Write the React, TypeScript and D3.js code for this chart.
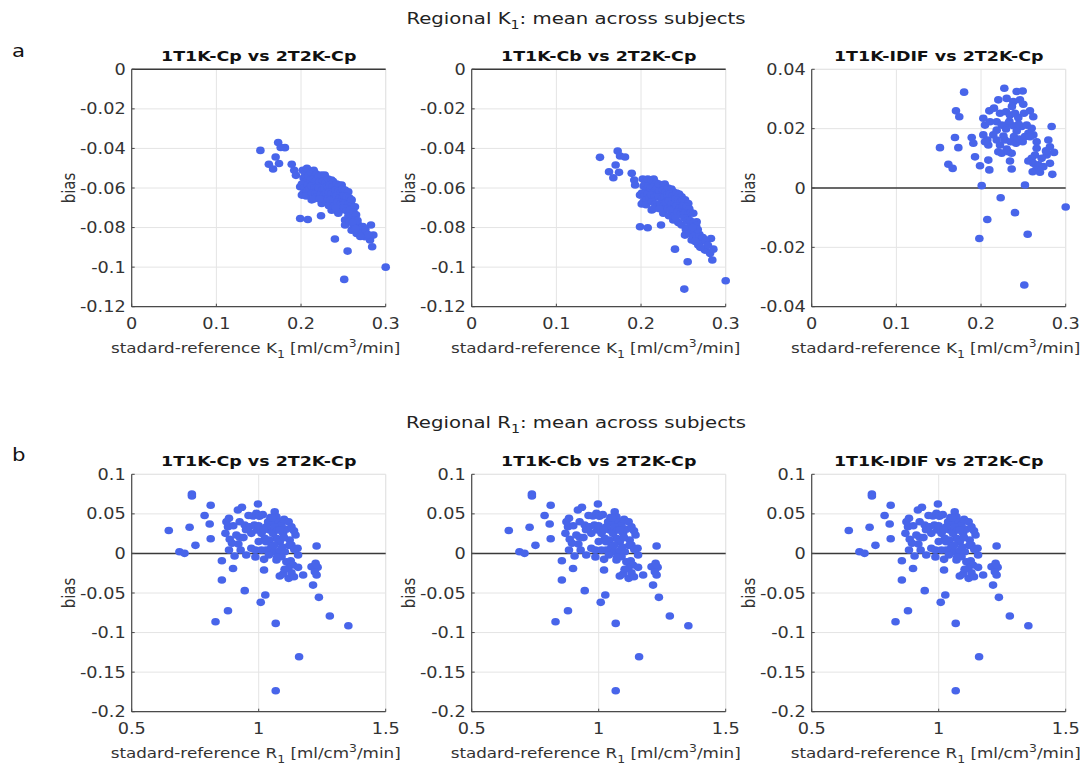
import React, { useEffect } from "react";
import * as d3 from "d3";

// ---------- data ----------
const panelTitles = ["1T1K-Cp vs 2T2K-Cp", "1T1K-Cb vs 2T2K-Cp", "1T1K-IDIF vs 2T2K-Cp"];
const k1Ticks = [0, 0.1, 0.2, 0.3];
const k1BiasTicks = [-0.12, -0.1, -0.08, -0.06, -0.04, -0.02, 0];
const k1IdifBiasTicks = [-0.04, -0.02, 0, 0.02, 0.04];
const r1Ticks = [0.5, 1, 1.5];
const r1BiasTicks = [-0.2, -0.15, -0.1, -0.05, 0, 0.05, 0.1];

const k1Cp: [number, number][] = [
  [0.152,-0.041],[0.173,-0.037],[0.176,-0.0395],[0.181,-0.0396],[0.170,-0.0443],[0.162,-0.048],[0.167,-0.0504],[0.174,-0.0476],
  [0.189,-0.048],[0.192,-0.051],[0.194,-0.0536],[0.199,-0.0594],[0.201,-0.0636],[0.199,-0.0754],[0.208,-0.0759],[0.2236,-0.074],
  [0.240,-0.0858],[0.255,-0.0919],[0.251,-0.1062],[0.300,-0.100],[0.2826,-0.0787],[0.2854,-0.0838],[0.2815,-0.0863],[0.284,-0.0897],
  [0.202,-0.051],[0.205,-0.0525],[0.207,-0.050],[0.203,-0.055],[0.206,-0.0565],[0.209,-0.054],[0.201,-0.058],[0.204,-0.060],
  [0.208,-0.0585],[0.203,-0.0625],[0.207,-0.0615],[0.210,-0.0605],[0.206,-0.064],
  [0.212,-0.052],[0.215,-0.051],[0.218,-0.053],[0.211,-0.056],[0.214,-0.0555],[0.217,-0.057],[0.219,-0.0555],[0.212,-0.059],
  [0.216,-0.060],[0.219,-0.0595],[0.213,-0.0625],[0.217,-0.063],[0.2126,-0.066],[0.219,-0.0645],[0.215,-0.0655],
  [0.221,-0.054],[0.224,-0.0535],[0.228,-0.0535],[0.222,-0.057],[0.226,-0.0565],[0.229,-0.0575],[0.221,-0.060],[0.225,-0.061],
  [0.228,-0.060],[0.223,-0.0635],[0.227,-0.064],[0.230,-0.0625],[0.2244,-0.0678],[0.228,-0.066],[0.222,-0.0655],
  [0.232,-0.0555],[0.236,-0.056],[0.238,-0.0568],[0.231,-0.059],[0.234,-0.0585],[0.237,-0.0595],[0.239,-0.061],[0.233,-0.062],
  [0.236,-0.063],[0.240,-0.0635],[0.232,-0.0655],[0.235,-0.066],[0.238,-0.0665],[0.2362,-0.0712],[0.233,-0.069],[0.239,-0.069],
  [0.242,-0.058],[0.245,-0.0585],[0.248,-0.0585],[0.241,-0.061],[0.244,-0.0615],[0.247,-0.062],[0.249,-0.0605],[0.242,-0.064],
  [0.246,-0.065],[0.249,-0.0645],[0.243,-0.067],[0.247,-0.068],[0.250,-0.067],[0.244,-0.0728],[0.248,-0.071],[0.241,-0.070],
  [0.252,-0.061],[0.2558,-0.0619],[0.251,-0.064],[0.254,-0.0645],[0.257,-0.065],[0.252,-0.0675],[0.256,-0.068],[0.259,-0.067],
  [0.251,-0.070],[0.254,-0.0715],[0.258,-0.071],[0.252,-0.0762],[0.256,-0.074],[0.259,-0.0745],[0.252,-0.0787],[0.2598,-0.0813],
  [0.257,-0.077],
  [0.2598,-0.066],[0.2637,-0.0695],[0.262,-0.072],[0.265,-0.0735],[0.2637,-0.0762],[0.2676,-0.0787],[0.262,-0.079],[0.2657,-0.083],
  [0.2716,-0.0821],[0.2755,-0.0846],[0.269,-0.081],[0.273,-0.0795],[0.276,-0.081],[0.279,-0.0835],[0.270,-0.0845],[0.2667,-0.0765],
  [0.261,-0.0775],[0.264,-0.0805],
];

const k1Cb: [number, number][] = [
  [0.1515,-0.0445],[0.1724,-0.0413],[0.1752,-0.0438],[0.1811,-0.0443],[0.170,-0.0484],[0.1622,-0.0518],[0.1673,-0.0548],[0.174,-0.0521],
  [0.189,-0.0526],[0.192,-0.056],[0.193,-0.0585],[0.1988,-0.0636],[0.2008,-0.0681],[0.1988,-0.0796],[0.2079,-0.0801],[0.2236,-0.0787],
  [0.2401,-0.0909],[0.2551,-0.0973],[0.2511,-0.1111],[0.300,-0.1069],[0.2826,-0.0855],[0.2854,-0.0909],[0.2815,-0.093],[0.2842,-0.0964],
  [0.202,-0.0555],[0.205,-0.057],[0.208,-0.0555],[0.203,-0.059],[0.206,-0.0605],[0.209,-0.059],[0.201,-0.0625],[0.204,-0.064],
  [0.208,-0.063],[0.203,-0.067],[0.207,-0.066],[0.210,-0.065],[0.206,-0.0685],
  [0.212,-0.056],[0.215,-0.0555],[0.218,-0.0575],[0.211,-0.060],[0.214,-0.0595],[0.217,-0.0615],[0.219,-0.060],[0.212,-0.0635],
  [0.216,-0.0645],[0.219,-0.064],[0.213,-0.067],[0.217,-0.068],[0.2126,-0.0711],[0.219,-0.0695],[0.215,-0.0705],
  [0.221,-0.058],[0.2263,-0.0585],[0.228,-0.058],[0.222,-0.0615],[0.226,-0.061],[0.229,-0.062],[0.221,-0.0645],[0.225,-0.0655],
  [0.228,-0.0645],[0.223,-0.068],[0.227,-0.069],[0.230,-0.067],[0.2263,-0.0728],[0.228,-0.0705],[0.222,-0.0705],
  [0.232,-0.060],[0.236,-0.0605],[0.2381,-0.0619],[0.231,-0.0635],[0.234,-0.063],[0.237,-0.064],[0.239,-0.0655],[0.233,-0.0665],
  [0.236,-0.068],[0.240,-0.068],[0.232,-0.0705],[0.235,-0.071],[0.238,-0.0715],[0.2381,-0.0762],[0.233,-0.074],[0.239,-0.074],
  [0.242,-0.0625],[0.245,-0.063],[0.248,-0.0644],[0.241,-0.0655],[0.244,-0.066],[0.247,-0.067],[0.249,-0.066],[0.242,-0.069],
  [0.246,-0.070],[0.249,-0.0695],[0.243,-0.072],[0.247,-0.073],[0.250,-0.072],[0.244,-0.0775],[0.248,-0.0787],[0.241,-0.075],
  [0.252,-0.066],[0.2558,-0.0678],[0.251,-0.069],[0.254,-0.0695],[0.257,-0.0705],[0.252,-0.0725],[0.256,-0.073],[0.259,-0.0725],
  [0.251,-0.075],[0.254,-0.0765],[0.258,-0.0765],[0.2519,-0.0838],[0.256,-0.080],[0.259,-0.0805],[0.253,-0.081],[0.2598,-0.0863],
  [0.257,-0.083],
  [0.2617,-0.0728],[0.2657,-0.0771],[0.262,-0.0775],[0.265,-0.079],[0.263,-0.082],[0.2676,-0.0888],[0.262,-0.0845],[0.266,-0.085],
  [0.271,-0.087],[0.2755,-0.0914],[0.269,-0.0835],[0.273,-0.085],[0.276,-0.0865],[0.279,-0.089],[0.270,-0.090],[0.267,-0.081],
  [0.261,-0.080],[0.264,-0.087],
];

const k1Idif: [number, number][] = [
  [0.180,0.0323],[0.2275,0.0336],[0.2421,0.0325],[0.2492,0.0327],[0.2204,0.0297],[0.2303,0.0302],[0.2381,0.0291],[0.246,0.0297],
  [0.2499,0.0282],[0.2098,0.026],[0.2153,0.0269],[0.2224,0.0252],[0.2295,0.0257],[0.2342,0.0246],[0.2401,0.0252],[0.244,0.0237],
  [0.2507,0.0252],[0.2578,0.026],[0.2617,0.024],[0.2027,0.0235],[0.2047,0.0212],[0.2106,0.0223],[0.2185,0.0223],[0.2244,0.0212],
  [0.2295,0.0199],[0.2322,0.0218],[0.2381,0.021],[0.2421,0.0192],[0.248,0.0207],[0.2539,0.0212],[0.2598,0.0201],[0.2559,0.0184],
  [0.2618,0.0179],[0.2834,0.0207],[0.2027,0.0179],[0.2074,0.0162],[0.2086,0.0145],[0.2047,0.0156],[0.2145,0.0179],[0.2185,0.0162],
  [0.2224,0.0145],[0.2283,0.0162],[0.2303,0.0131],[0.235,0.0156],[0.2389,0.0173],[0.2413,0.0151],[0.2452,0.0165],[0.2492,0.0156],
  [0.2519,0.0173],[0.2578,0.0173],[0.2204,0.0122],[0.2244,0.0117],[0.2322,0.0122],[0.2362,0.0117],[0.1929,0.0105],[0.1988,0.0075],
  [0.2086,0.0094],[0.2098,0.0061],[0.2342,0.0091],[0.2362,0.0064],[0.2657,0.0156],[0.2795,0.0162],[0.2814,0.0139],[0.2862,0.012],
  [0.2775,0.0111],[0.2657,0.0134],[0.2637,0.0111],[0.2598,0.01],[0.2559,0.0091],[0.2618,0.0083],[0.2677,0.0078],[0.2649,0.0061],
  [0.261,0.0055],[0.2696,0.0053],[0.2736,0.0072],[0.2716,0.01],[0.2767,0.0125],[0.2814,0.0083],[0.2842,0.0046],[0.1515,0.0136],
  [0.1704,0.026],[0.1743,0.024],[0.1692,0.017],[0.1732,0.0136],[0.1614,0.008],[0.1665,0.0066],[0.189,0.017],[0.1909,0.0151],
  [0.2008,0.0008],[0.2519,0.001],[0.2232,-0.0033],[0.2401,-0.0083],[0.2074,-0.0106],[0.198,-0.017],[0.2551,-0.0156],[0.2511,-0.0327],
  [0.300,-0.0064],[0.2365,0.0275],[0.2335,0.0225],[0.2445,0.0215],[0.2265,0.0175],[0.2185,0.0195],
];

const r1Cp: [number, number][] = [
  [0.646,0.029],[0.737,0.075],[0.737,0.0725],[0.728,0.033],[0.751,0.0102],[0.688,0.0022],[0.708,0.0001],[0.811,0.0608],
  [0.787,0.048],[0.807,0.0372],[0.811,0.0186],[0.855,-0.0092],[0.899,-0.019],[0.855,-0.0336],[0.945,-0.047],[0.879,-0.0724],
  [0.830,-0.0863],[1.008,-0.0618],[1.026,-0.0526],[1.021,-0.021],[1.067,-0.0884],[1.159,-0.1305],[1.067,-0.1735],[1.280,-0.079],
  [1.353,-0.0913],[1.237,-0.0555],[1.214,-0.040],[1.228,0.0094],[1.208,-0.0168],[1.224,-0.0125],[1.232,-0.0176],[1.221,-0.0231],
  [1.228,-0.0273],
  [0.879,0.0338],[0.873,0.040],[0.883,0.0444],[0.869,0.0254],[0.886,0.0178],[0.895,0.0128],[0.883,0.0043],[0.905,-0.0033],
  [0.929,0.0043],[0.918,0.0549],[0.934,0.0583],[0.925,0.040],[0.945,0.0359],[0.964,0.0338],[0.912,0.0233],[0.925,0.0204],
  [0.951,-0.002],[0.971,0.0064],[0.987,0.0043],[0.987,-0.0045],[0.997,0.0625],[0.977,0.0473],[0.991,0.0507],[1.003,0.047],
  [1.016,0.049],[0.983,0.0359],[0.994,0.0296],[1.011,0.0254],[1.024,0.019],[1.021,-0.0075],[1.011,0.0043],[1.029,0.0043],
  [1.042,0.0043],[1.037,0.040],[1.053,0.038],[1.063,0.0527],[1.070,0.0464],[1.079,0.040],[1.043,0.0296],[1.056,0.0254],
  [1.070,0.019],[1.083,0.0148],[1.096,0.0254],[1.109,0.0305],[1.090,0.0359],[1.100,0.0431],[1.118,0.040],[1.129,0.0338],
  [1.139,0.0287],[1.145,0.0233],[1.122,0.0169],[1.129,0.0106],[1.050,0.0085],[1.063,0.0022],[1.083,0.0034],[1.103,0.0022],
  [1.070,-0.0083],[1.090,-0.0041],[1.153,0.0064],[1.155,-0.002],[1.109,-0.0105],[1.126,-0.0092],[1.135,-0.0147],[1.116,-0.019],
  [1.155,-0.0176],[1.129,-0.0244],[1.083,-0.0286],[1.096,-0.026],[1.118,-0.0315],[1.139,-0.0294],[1.175,-0.0273],[0.971,0.0254],
  [1.030,0.0338],[1.063,0.0338],[1.076,0.0296],[1.043,0.0169],[1.029,0.0148],[1.046,0.0452],
  [0.960,0.048],[0.950,0.030],[0.940,0.020],[1.000,0.035],[1.020,0.030],[1.052,0.045],[1.082,0.030],[1.100,0.020],
  [1.120,0.010],[1.060,0.010],[1.040,-0.002],[1.092,0.008],[1.140,0.005],[1.000,0.015],[0.900,0.035],[0.920,0.012],
  [1.072,-0.005],[1.102,-0.020],
];
const r1Cb = r1Cp;
const r1Idif = r1Cp;

// ---------- layout / style ----------
const SX = 1.18;
const FONT = "'DejaVu Sans', sans-serif";
const DOT = "#4865ea";
const PW = 254;
const PH = 237.4;
const lefts = [131.7, 471.7, 811.7];
const tops = [69.3, 474.3];

type TProps = {
  x: number; y: number; anchor?: string; size?: number; weight?: string; fill?: string; rotate?: boolean;
  children?: React.ReactNode;
};
function T({ x, y, anchor = "middle", size = 14, weight = "normal", fill = "#262626", rotate = false, children }: TProps) {
  const tr = rotate ? `translate(${x},${y}) rotate(-90) scale(1,${SX})` : `translate(${x},${y}) scale(${SX},1)`;
  return (
    <text transform={tr} textAnchor={anchor as any} fontSize={size} fontWeight={weight} fill={fill} fontFamily={FONT}>
      {children}
    </text>
  );
}

type PanelProps = {
  left: number; top: number; xDomain: [number, number]; xTicks: number[]; yDomain: [number, number]; yTicks: number[];
  data: [number, number][]; title: string; varName: string;
};

function Panel({ left, top, xDomain, xTicks, yDomain, yTicks, data, title, varName }: PanelProps) {
  const x = d3.scaleLinear().domain(xDomain).range([left, left + PW]);
  const y = d3.scaleLinear().domain(yDomain).range([top + PH, top]);
  const bottom = top + PH;
  const right = left + PW;
  const grid = "#e4e4e4";
  const axis = "#4a4a4a";
  return (
    <g>
      {xTicks.map((t) => (
        <line key={"gx" + t} x1={x(t)} x2={x(t)} y1={top} y2={bottom} stroke={grid} strokeWidth={1} />
      ))}
      {yTicks.map((t) => (
        <line key={"gy" + t} x1={left} x2={right} y1={y(t)} y2={y(t)} stroke={grid} strokeWidth={1} />
      ))}
      <line x1={left} x2={right} y1={top} y2={top} stroke={grid} strokeWidth={1} />
      <line x1={right} x2={right} y1={top} y2={bottom} stroke={grid} strokeWidth={1} />
      <line x1={left} x2={right} y1={y(0)} y2={y(0)} stroke="#3a3a3a" strokeWidth={1.4} />
      {data.map((d, i) => (
        <ellipse key={i} cx={x(d[0])} cy={y(d[1])} rx={4.3} ry={3.8} fill={DOT} />
      ))}
      <line x1={left} x2={left} y1={top} y2={bottom} stroke={axis} strokeWidth={1.2} />
      <line x1={left} x2={right} y1={bottom} y2={bottom} stroke={axis} strokeWidth={1.2} />
      {xTicks.map((t) => (
        <line key={"tx" + t} x1={x(t)} x2={x(t)} y1={bottom} y2={bottom - 3} stroke={axis} strokeWidth={1} />
      ))}
      {yTicks.map((t) => (
        <line key={"ty" + t} x1={left} x2={left + 3} y1={y(t)} y2={y(t)} stroke={axis} strokeWidth={1} />
      ))}
      {xTicks.map((t) => (
        <T key={"lx" + t} x={x(t)} y={bottom + 22} size={15} fill="#333">{String(t)}</T>
      ))}
      {yTicks.map((t) => (
        <T key={"ly" + t} x={left - 6} y={y(t) + 5.5} anchor="end" size={15} fill="#333">{String(t)}</T>
      ))}
      <T x={left + PW / 2} y={top - 8.5} size={14.8} weight="bold" fill="#111">{title}</T>
      <T x={left - 57} y={top + PH / 2} size={15} rotate fill="#333">bias</T>
      <T x={left + PW / 2 - 3} y={bottom + 46} size={14.2} fill="#333">
        {"stadard-reference " + varName}
        <tspan dy={5} fontSize={10.5}>1</tspan>
        <tspan dy={-5}>{" [ml/cm"}</tspan>
        <tspan dy={-6} fontSize={10.5}>3</tspan>
        <tspan dy={6}>/min]</tspan>
      </T>
    </g>
  );
}

export default function App() {
  useEffect(() => {
    document.body.style.margin = "0";
  }, []);
  const kData = [k1Cp, k1Cb, k1Idif];
  const rData = [r1Cp, r1Cb, r1Idif];
  return (
    <svg width={1088} height={767} style={{ display: "block", background: "#fff" }}>
      <T x={576} y={24} size={16.7} fill="#222">
        Regional K<tspan dy={5} fontSize={12}>1</tspan>
        <tspan dy={-5}>: mean across subjects</tspan>
      </T>
      <T x={576} y={428} size={16.7} fill="#222">
        Regional R<tspan dy={5} fontSize={12}>1</tspan>
        <tspan dy={-5}>: mean across subjects</tspan>
      </T>
      <T x={12} y={57} anchor="start" size={18} fill="#111">a</T>
      <T x={12} y={461} anchor="start" size={18} fill="#111">b</T>
      {kData.map((d, i) => (
        <Panel
          key={"k" + i}
          left={lefts[i]}
          top={tops[0]}
          xDomain={[0, 0.3]}
          xTicks={k1Ticks}
          yDomain={i < 2 ? [-0.12, 0] : [-0.04, 0.04]}
          yTicks={i < 2 ? k1BiasTicks : k1IdifBiasTicks}
          data={d}
          title={panelTitles[i]}
          varName="K"
        />
      ))}
      {rData.map((d, i) => (
        <Panel
          key={"r" + i}
          left={lefts[i]}
          top={tops[1]}
          xDomain={[0.5, 1.5]}
          xTicks={r1Ticks}
          yDomain={[-0.2, 0.1]}
          yTicks={r1BiasTicks}
          data={d}
          title={panelTitles[i]}
          varName="R"
        />
      ))}
    </svg>
  );
}
